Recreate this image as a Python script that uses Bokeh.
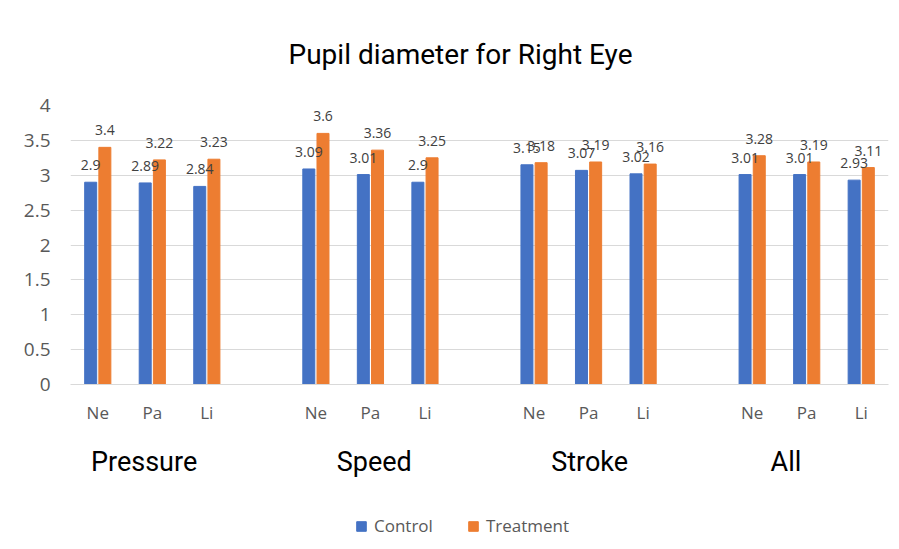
from bokeh.plotting import figure
from bokeh.layouts import column
from bokeh.models import (ColumnDataSource, FixedTicker, LinearAxis, Legend, LegendItem,
                          Range1d, Title)
from bokeh.core.properties import value
from bokeh.embed import file_html
from bokeh.resources import INLINE

# ---- data ----
groups = ["Pressure", "Speed", "Stroke", "All"]
subs = ["Ne", "Pa", "Li"]
control = [2.90, 2.89, 2.84, 3.09, 3.01, 2.90, 3.15, 3.07, 3.02, 3.01, 3.01, 2.93]
treatment = [3.40, 3.22, 3.23, 3.60, 3.36, 3.25, 3.18, 3.19, 3.16, 3.28, 3.19, 3.11]
y_ticks = [0, 0.5, 1, 1.5, 2, 2.5, 3, 3.5, 4]
series_names = ["Control", "Treatment"]

# ---- styling / layout ----
slot_per_group = len(subs) + 1
group_label_shift = [-0.15, 0.07, 0.02, -0.38]
bar_w = 0.22
bar_off = 0.13
C_BLUE = "#4472C4"
C_ORANGE = "#ED7D31"
GRID = "#D9D9D9"
TXT = "#595959"

xs = []
sub_labels = []
for gi, g in enumerate(groups):
    for si, s in enumerate(subs):
        xs.append(gi * slot_per_group + si)
        sub_labels.append(s)

src = ColumnDataSource(dict(
    xc=[x - bar_off for x in xs],
    xt=[x + bar_off for x in xs],
    c=control, t=treatment,
    cl=[f"{v:g}" for v in control],
    tl=[f"{v:g}" for v in treatment],
))

n_slots = len(groups) * slot_per_group - 1

p = figure(width=891, height=510, output_backend="svg", toolbar_location=None,
           x_range=Range1d(-0.5, n_slots - 0.5), y_range=Range1d(0, 4),
           min_border_left=70, min_border_right=3, min_border_top=105, min_border_bottom=126,
           x_axis_type=None, y_axis_location=None)
p.outline_line_color = None
p.background_fill_color = "white"
p.border_fill_color = "white"

rc = p.vbar(x="xc", top="c", width=bar_w, source=src, color=C_BLUE, line_color=C_BLUE)
rt = p.vbar(x="xt", top="t", width=bar_w, source=src, color=C_ORANGE, line_color=C_ORANGE)

lab_kw = dict(text_font=value("Open Sans"), text_font_size="14px", text_color="#404040",
              text_align="center", text_baseline="middle", y_offset=-17)
p.text(x="xc", y="c", text="cl", source=src, **lab_kw)
p.text(x="xt", y="t", text="tl", source=src, **lab_kw)

# y axis
yaxis = LinearAxis(ticker=FixedTicker(ticks=y_ticks))
yaxis.axis_line_color = None
yaxis.major_tick_line_color = None
yaxis.minor_tick_line_color = None
yaxis.major_tick_out = 0
yaxis.major_tick_in = 0
yaxis.major_label_text_font = "Open Sans"
yaxis.major_label_text_font_size = "19px"
yaxis.major_label_text_color = TXT
yaxis.major_label_standoff = 20
yaxis.major_label_overrides = {t: f"{t:g}" for t in y_ticks}
p.add_layout(yaxis, "left")

p.ygrid.ticker = FixedTicker(ticks=y_ticks)
p.ygrid.grid_line_color = GRID
p.xgrid.grid_line_color = None

# x axis: sub categories
xaxis = LinearAxis(ticker=FixedTicker(ticks=xs))
xaxis.major_label_overrides = {x: s for x, s in zip(xs, sub_labels)}
xaxis.axis_line_color = GRID
xaxis.major_tick_line_color = None
xaxis.minor_tick_line_color = None
xaxis.major_label_text_font = "Open Sans"
xaxis.major_label_text_font_size = "17px"
xaxis.major_label_text_color = TXT
xaxis.major_label_standoff = 10
p.add_layout(xaxis, "below")

# x axis: group names
gpos = [gi * slot_per_group + (len(subs) - 1) / 2 + sh for gi, sh in enumerate(group_label_shift)]
gaxis = LinearAxis(ticker=FixedTicker(ticks=gpos))
gaxis.major_label_overrides = {x: g for x, g in zip(gpos, groups)}
gaxis.axis_line_color = None
gaxis.major_tick_line_color = None
gaxis.minor_tick_line_color = None
gaxis.major_label_text_font = "Roboto"
gaxis.major_label_text_font_size = "27px"
gaxis.major_label_text_color = "black"
gaxis.major_label_standoff = 13
p.add_layout(gaxis, "below")

# title
title = Title(text="Pupil diameter for Right Eye", align="left", text_font="Roboto",
              text_font_size="28px", text_font_style="normal", text_color="black",
              standoff=70, offset=218)
p.add_layout(title, "above")

# legend strip (same series, drawn out of view so only the legend shows)
lg = figure(width=891, height=31, output_backend="svg", toolbar_location=None,
            x_range=Range1d(-0.5, n_slots - 0.5), y_range=Range1d(100, 101),
            min_border=0, x_axis_type=None, y_axis_type=None)
lg.outline_line_color = None
lg.xgrid.grid_line_color = None
lg.ygrid.grid_line_color = None
lc = lg.vbar(x="xc", top="c", width=bar_w, source=src, color=C_BLUE, line_color=C_BLUE)
lt = lg.vbar(x="xt", top="t", width=bar_w, source=src, color=C_ORANGE, line_color=C_ORANGE)
legend = Legend(items=[LegendItem(label=series_names[0], renderers=[lc]),
                       LegendItem(label=series_names[1], renderers=[lt])],
                orientation="horizontal", location=(285, 4))
legend.border_line_color = None
legend.background_fill_alpha = 0
legend.glyph_width = 12
legend.glyph_height = 12
legend.label_standoff = 7
legend.spacing = 34
legend.padding = 2
legend.margin = 0
legend.label_text_font = "Open Sans"
legend.label_text_font_size = "17px"
legend.label_text_color = TXT
lg.add_layout(legend, "center")

layout = column(p, lg, spacing=0)
open("out.html", "w").write(file_html(layout, INLINE))
